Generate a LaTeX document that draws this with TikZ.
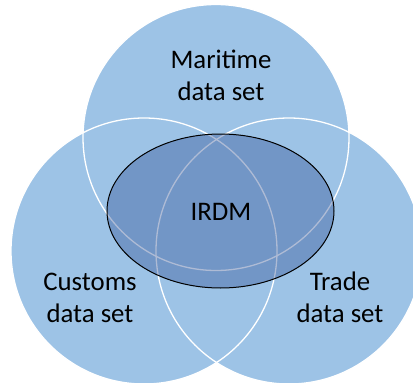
\documentclass[tikz,border=0pt]{standalone}
\usepackage{fontspec}
\setmainfont{Carlito}
\definecolor{setblue}{RGB}{157,195,230}
\definecolor{coreblue}{RGB}{44,77,146}
\tikzset{
  setfill/.style={fill=setblue},
  setline/.style={draw=white, line width=1.3pt},
  core/.style={fill=coreblue, fill opacity=0.38, draw=black, draw opacity=1, line width=1pt},
  lbl/.style={font=\fontsize{26.8}{32}\selectfont, align=center, anchor=base, inner sep=0pt, text=black}
}
\begin{document}
\begin{tikzpicture}[x=1pt,y=-1pt]
\useasboundingbox (0,0) rectangle (413,383);
\begin{scope}
\clip (0,0) rectangle (413,383);
% fills
\fill[setfill] (216,137.5) circle[radius=133pt];
\fill[setfill] (144,251) circle[radius=133pt];
\fill[setfill] (289,251) circle[radius=133pt];
% outlines
\draw[setline] (216,137.5) circle[radius=133pt];
\draw[setline] (144,251) circle[radius=133pt];
\draw[setline] (289,251) circle[radius=133pt];
% core ellipse
\path[core] (220.5,211) ellipse[x radius=113.5pt, y radius=77pt];
\end{scope}
\node[lbl] (maritime) at (221,100) {Maritime\\data set};
\node[lbl] (irdm) at (221,220) {IRDM};
\node[lbl] (customs) at (90,322) {Customs\\data set};
\node[lbl] (trade) at (340,322) {Trade\\data set};
\end{tikzpicture}
\end{document}
